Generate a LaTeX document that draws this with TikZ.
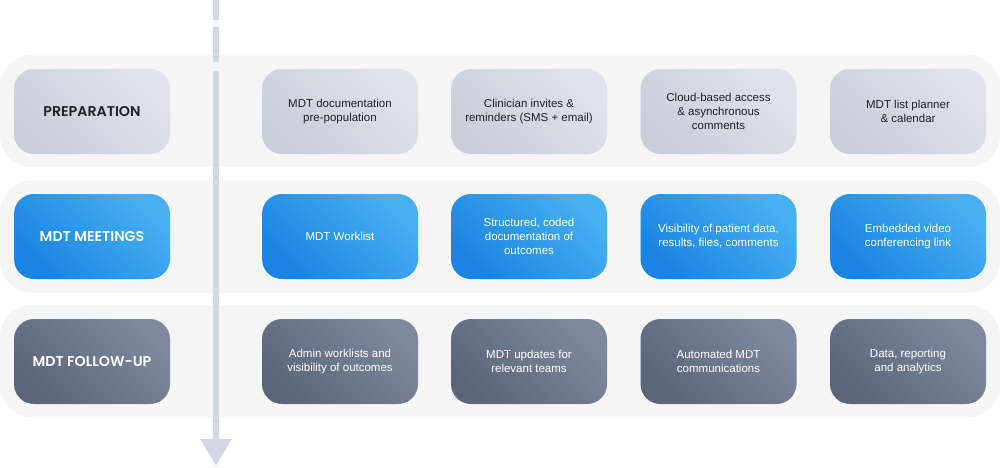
\documentclass[tikz,border=0pt]{standalone}
\usepackage{fontspec}
\setmainfont{Liberation Sans}
\newfontfamily\headfont{Poppins}[UprightFont=* Medium, BoldFont=* SemiBold]
\usetikzlibrary{arrows.meta}

\definecolor{bandgray}{HTML}{F5F5F6}
\definecolor{preplight}{HTML}{E0E3EB}
\definecolor{prepdark}{HTML}{C9CED9}
\definecolor{meetlight}{HTML}{46B1F2}
\definecolor{meetdark}{HTML}{1A83E3}
\definecolor{followlight}{HTML}{7F899E}
\definecolor{followdark}{HTML}{5B657A}
\definecolor{linegray}{HTML}{D2D7E3}
\definecolor{textdark}{HTML}{202226}

\begin{document}
\begin{tikzpicture}[x=1pt,y=-1pt]
	\useasboundingbox (0,0) rectangle (1000,467);
	\begin{scope}
		[
			every node/.style={fill=bandgray, rounded corners=32pt,
				minimum width=1000pt, minimum height=112pt, inner sep=0pt}
		]
		% stage bands
		\node(bandprep) at (500,111) {};
		\node(bandmeet) at (500,236.5) {};
		\node(bandfollow) at (500,361) {};
	\end{scope}
	\begin{scope}
		[
			every node/.style={rounded corners=20pt, minimum width=156pt,
				minimum height=85pt, inner sep=0pt, align=center,
				font=\fontsize{11.5}{14}\selectfont},
			stage/.style = {font=\headfont\bfseries\fontsize{14.2}{16}\selectfont},
			prep/.style = {top color=preplight, bottom color=prepdark, shading angle=-45, text=textdark},
			meet/.style = {top color=meetlight, bottom color=meetdark, shading angle=-45, text=white},
			follow/.style = {top color=followlight, bottom color=followdark, shading angle=-45, text=white}
		]
		\node(prepstage)[prep,stage] at (92,111.5) {PREPARATION};
		\node(prepa)[prep] at (340,111.5) {MDT documentation\\pre-population};
		\node(prepb)[prep] at (529,111.5) {Clinician invites \&\\reminders (SMS + email)};
		\node(prepc)[prep] at (718.5,111.5) {Cloud-based access\\\& asynchronous\\comments};
		\node(prepd)[prep] at (908,111.5) {MDT list planner\\\& calendar};

		\node(meetstage)[meet,stage] at (92,236.5) {MDT MEETINGS};
		\node(meeta)[meet] at (340,236.5) {MDT Worklist};
		\node(meetb)[meet] at (529,236.5) {Structured, coded\\documentation of\\outcomes};
		\node(meetc)[meet] at (718.5,236.5) {Visibility of patient data,\\results, files, comments};
		\node(meetd)[meet] at (908,236.5) {Embedded video\\conferencing link};

		\node(followstage)[follow,stage] at (92,361.5) {MDT FOLLOW-UP};
		\node(followa)[follow] at (340,361.5) {Admin worklists and\\visibility of outcomes};
		\node(followb)[follow] at (529,361.5) {MDT updates for\\relevant teams};
		\node(followc)[follow] at (718.5,361.5) {Automated MDT\\communications};
		\node(followd)[follow] at (908,361.5) {Data, reporting\\and analytics};
	\end{scope}
	\begin{scope}
		[
			faint/.style = {draw=linegray!25, line width=6pt},
			timeline/.style = {draw=linegray, line width=6pt,
				dash pattern=on 20pt off 7pt on 35pt off 9pt on 600pt,
				-{Triangle[width=30pt, length=27pt]}}
		]
		\coordinate(start) at (216,0);
		\coordinate(finish) at (216,466);
		\path[faint] (start) -- (216,80);
		\path[timeline] (start) -- (finish);
	\end{scope}
\end{tikzpicture}
\end{document}
